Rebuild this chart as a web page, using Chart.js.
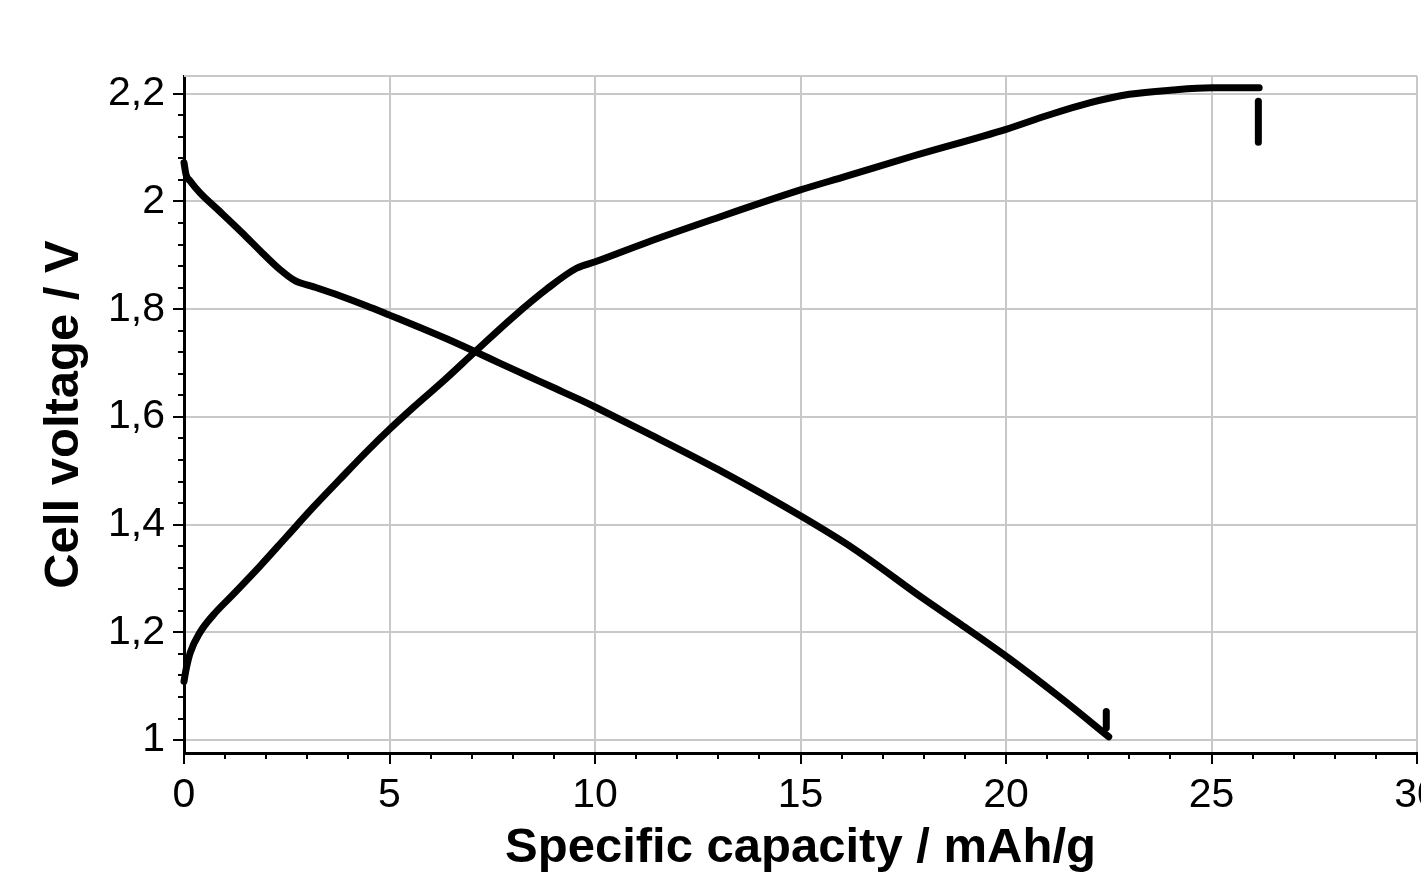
<!doctype html>
<html lang="en">
  <head>
    <meta charset="utf-8">
    <title>Cell voltage vs specific capacity</title>
    <style>
      * {
        margin: 0;
        padding: 0;
      }
      body {
        background: white;
        overflow: hidden;
      }
      .chartBox {
        width: 1460px;
        height: 873px;
      }
    </style>
  </head>
  <body>
    <div class="chartBox">
      <canvas id="myChart" width="1460" height="873"></canvas>
    </div>
    <script src="https://cdn.jsdelivr.net/npm/chart.js/dist/chart.umd.min.js"></script>
    <script>
    // charge curve (rising)
    const chargeCap  = [0, 0.05, 0.15, 0.39, 0.71, 1.19, 1.85, 2.5, 3.14, 3.79, 4.45, 5.0, 5.6, 6.3, 7.08, 8.0, 8.82, 9.55, 10.04, 11.26, 12.87, 14.98, 16.12, 17.72, 20.0, 21.06, 22.03, 23.0, 24.05, 25.02, 26.16];
    const chargeVolt = [1.109, 1.131, 1.162, 1.2, 1.232, 1.27, 1.323, 1.378, 1.432, 1.484, 1.536, 1.577, 1.619, 1.666, 1.721, 1.785, 1.837, 1.876, 1.889, 1.924, 1.967, 2.021, 2.047, 2.084, 2.134, 2.161, 2.183, 2.199, 2.207, 2.211, 2.211];
    const chargeRestCap  = [26.14, 26.14];
    const chargeRestVolt = [2.186, 2.110];

    // discharge curve (falling)
    const dischargeCap  = [0, 0.05, 0.15, 0.39, 0.85, 1.4, 1.9, 2.33, 2.7, 3.14, 3.79, 4.45, 5.0, 5.74, 6.39, 7.03, 7.68, 8.34, 8.97, 9.63, 10.04, 11.3, 12.98, 15.05, 16.3, 18.0, 18.84, 20.05, 21.35, 22.5];
    const dischargeVolt = [2.072, 2.05, 2.038, 2.016, 1.983, 1.943, 1.905, 1.874, 1.853, 1.842, 1.825, 1.806, 1.789, 1.766, 1.745, 1.723, 1.7, 1.677, 1.655, 1.632, 1.617, 1.569, 1.503, 1.414, 1.355, 1.262, 1.218, 1.153, 1.077, 1.006];
    const dischargeRestCap  = [22.44, 22.44];
    const dischargeRestVolt = [1.023, 1.053];

    // axes
    const xTickValues = [0, 5, 10, 15, 20, 25, 30];
    const yTickValues = [1, 1.2, 1.4, 1.6, 1.8, 2, 2.2];
    const yTickLabels = ['1', '1,2', '1,4', '1,6', '1,8', '2', '2,2'];

    const toPoints = (xs, ys) => xs.map((x, i) => ({x: x, y: ys[i]}));

    const lineStyle = {
      borderColor: '#000',
      borderWidth: 7,
      borderCapStyle: 'round',
      borderJoinStyle: 'round',
      pointRadius: 0,
      cubicInterpolationMode: 'monotone',
      clip: false
    };

    // minor ticks + top frame line
    const minorTicks = {
      id: 'minorTicks',
      beforeDatasetsDraw(chart) {
        const {ctx, chartArea} = chart;
        ctx.save();
        ctx.strokeStyle = '#c8c8c8';
        ctx.lineWidth = 2;
        ctx.beginPath();
        ctx.moveTo(chartArea.left, chartArea.top);
        ctx.lineTo(chartArea.right, chartArea.top);
        ctx.stroke();
        ctx.restore();
      },
      afterDraw(chart) {
        const {ctx, chartArea, scales} = chart;
        ctx.save();
        ctx.strokeStyle = '#000';
        ctx.lineWidth = 2;
        ctx.beginPath();
        for (let v = 1; v < 30; v++) {
          if (v % 5 === 0) continue;
          const px = Math.round(scales.x.getPixelForValue(v));
          ctx.moveTo(px, chartArea.bottom);
          ctx.lineTo(px, chartArea.bottom + 6);
        }
        for (let k = 26; k <= 55; k++) {
          if (k % 5 === 0) continue;
          const py = Math.round(scales.y.getPixelForValue(k * 0.04));
          if (py < chartArea.top) continue;
          ctx.moveTo(chartArea.left, py);
          ctx.lineTo(chartArea.left - 6, py);
        }
        ctx.stroke();
        ctx.restore();
      }
    };

    const data = {
      datasets: [
        Object.assign({label: 'Charge', data: toPoints(chargeCap, chargeVolt)}, lineStyle),
        Object.assign({label: 'Charge rest', data: toPoints(chargeRestCap, chargeRestVolt)}, lineStyle),
        Object.assign({label: 'Discharge', data: toPoints(dischargeCap, dischargeVolt)}, lineStyle),
        Object.assign({label: 'Discharge rest', data: toPoints(dischargeRestCap, dischargeRestVolt)}, lineStyle)
      ]
    };

    const tickFont = {family: '"Liberation Sans", Arial, sans-serif', size: 41};
    const titleFont = {family: '"Liberation Sans", Arial, sans-serif', size: 49, weight: 'bold', lineHeight: 1};

    const config = {
      type: 'line',
      data,
      options: {
        responsive: false,
        animation: false,
        layout: {
          padding: {left: 0, top: 76, right: 43, bottom: 0}
        },
        plugins: {
          legend: {display: false},
          tooltip: {enabled: false}
        },
        scales: {
          x: {
            type: 'linear',
            min: 0,
            max: 30,
            afterBuildTicks: (scale) => {
              scale.ticks = xTickValues.map(v => ({value: v}));
            },
            afterFit: (scale) => { scale.height = 120; },
            ticks: {
              color: '#000',
              font: tickFont,
              padding: 7,
              maxRotation: 0,
              callback: (value) => String(value)
            },
            grid: {
              color: '#c8c8c8',
              lineWidth: 2,
              tickColor: '#000',
              tickWidth: 2,
              tickLength: 11
            },
            border: {color: '#000', width: 3},
            title: {
              display: true,
              text: 'Specific capacity / mAh/g',
              color: '#000',
              font: titleFont,
              padding: {top: 0, bottom: 0}
            }
          },
          y: {
            type: 'linear',
            min: 0.976,
            max: 2.233,
            afterBuildTicks: (scale) => {
              scale.ticks = yTickValues.map(v => ({value: v}));
            },
            afterFit: (scale) => { scale.width = 184; },
            ticks: {
              color: '#000',
              font: tickFont,
              padding: 8,
              callback: (value, index) => yTickLabels[index]
            },
            grid: {
              color: '#c8c8c8',
              lineWidth: 2,
              tickColor: '#000',
              tickWidth: 2,
              tickLength: 11
            },
            border: {color: '#000', width: 3},
            title: {
              display: true,
              text: 'Cell voltage / V',
              color: '#000',
              font: titleFont,
              padding: {top: 40, bottom: 0}
            }
          }
        }
      },
      plugins: [minorTicks]
    };

    const myChart = new Chart(document.getElementById('myChart'), config);
    </script>
  </body>
</html>
